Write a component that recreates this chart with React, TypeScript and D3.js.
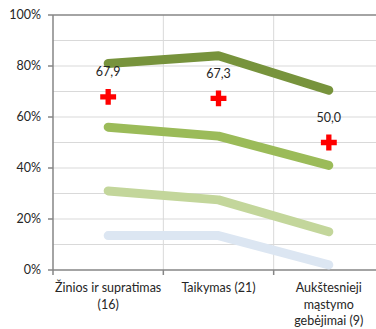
import { useEffect, useRef } from "react";
import * as d3 from "d3";

const categories = [
  ["Žinios ir supratimas", "(16)"],
  ["Taikymas (21)"],
  ["Aukštesnieji", "mąstymo", "gebėjimai (9)"],
];

const darkGreen = [81, 84, 70.5];
const midGreen = [56, 52.5, 41];
const lightGreen = [31, 27.5, 15];
const lightBlue = [13.5, 13.5, 2];
const averages = [67.9, 67.3, 50.0];

const yTicks = [0, 20, 40, 60, 80, 100];
const yGrid = [10, 30, 50, 70, 90];

const W = 376;
const H = 329;

export default function App() {
  const svgRef = useRef<SVGSVGElement | null>(null);

  useEffect(() => {
    if (!svgRef.current) return;
    const svg = d3.select(svgRef.current);
    svg.selectAll("*").remove();

    const font = "Lato, 'Liberation Sans', sans-serif";
    const left = 53;
    const right = 384;
    const top = 15;
    const bottom = 270;

    const x = d3
      .scaleBand<number>()
      .domain(categories.map((_, i) => i))
      .range([left, right]);
    const y = d3.scaleLinear().domain([0, 100]).range([bottom, top]);
    const cx = (i: number) => x(i)! + x.bandwidth() / 2;

    // gridlines
    const grid = svg.append("g");
    [...yGrid, ...yTicks.filter((t) => t > 0 && t < 100)].forEach((t) => {
      grid
        .append("line")
        .attr("x1", left)
        .attr("x2", right)
        .attr("y1", y(t))
        .attr("y2", y(t))
        .attr("stroke", "#d9d9d9")
        .attr("stroke-width", 1);
    });
    categories.forEach((_, i) => {
      if (i === 0) return;
      grid
        .append("line")
        .attr("x1", x(i)!)
        .attr("x2", x(i)!)
        .attr("y1", top)
        .attr("y2", bottom)
        .attr("stroke", "#d9d9d9");
    });

    // frame / axes
    const axisColor = "#868686";
    svg
      .append("line")
      .attr("x1", left)
      .attr("x2", right)
      .attr("y1", top)
      .attr("y2", top)
      .attr("stroke", axisColor)
      .attr("stroke-width", 1.5);
    svg
      .append("line")
      .attr("x1", left)
      .attr("x2", left)
      .attr("y1", top)
      .attr("y2", bottom)
      .attr("stroke", axisColor)
      .attr("stroke-width", 1.5);
    svg
      .append("line")
      .attr("x1", left)
      .attr("x2", right)
      .attr("y1", bottom)
      .attr("y2", bottom)
      .attr("stroke", axisColor)
      .attr("stroke-width", 1.5);

    yTicks.forEach((t) => {
      svg
        .append("line")
        .attr("x1", left - 5)
        .attr("x2", left)
        .attr("y1", y(t))
        .attr("y2", y(t))
        .attr("stroke", axisColor)
        .attr("stroke-width", 1.5);
      svg
        .append("text")
        .attr("x", 41)
        .attr("y", y(t))
        .attr("dy", "0.35em")
        .attr("text-anchor", "end")
        .attr("font-family", font)
        .attr("font-size", 12.5)
        .attr("fill", "#262626")
        .text(`${t}%`);
    });
    categories.forEach((_, i) => {
      svg
        .append("line")
        .attr("x1", x(i)!)
        .attr("x2", x(i)!)
        .attr("y1", bottom)
        .attr("y2", bottom + 5)
        .attr("stroke", axisColor)
        .attr("stroke-width", 1.5);
    });

    // category labels
    categories.forEach((lines, i) => {
      const t = svg
        .append("text")
        .attr("text-anchor", "middle")
        .attr("font-family", font)
        .attr("font-size", 12.5)
        .attr("fill", "#262626");
      lines.forEach((ln, j) => {
        t.append("tspan")
          .attr("x", cx(i))
          .attr("y", 292 + j * 16.5)
          .text(ln);
      });
    });

    // series lines
    const line = d3
      .line<number>()
      .x((_, i) => cx(i))
      .y((d) => y(d));
    const series: [number[], string][] = [
      [lightBlue, "#dce6f2"],
      [lightGreen, "#c3d69b"],
      [midGreen, "#9bbb59"],
      [darkGreen, "#77933c"],
    ];
    series.forEach(([vals, color]) => {
      svg
        .append("path")
        .attr("d", line(vals)!)
        .attr("fill", "none")
        .attr("stroke", color)
        .attr("stroke-width", 9)
        .attr("stroke-linecap", "round")
        .attr("stroke-linejoin", "round");
    });

    // average markers
    const cross = d3.symbol().type(d3.symbolCross).size(140);
    averages.forEach((v, i) => {
      svg
        .append("path")
        .attr("d", cross()!)
        .attr("transform", `translate(${cx(i)},${y(v)})`)
        .attr("fill", "#ff0000");
      svg
        .append("text")
        .attr("x", cx(i))
        .attr("y", y(v) - 25)
        .attr("dy", "0.35em")
        .attr("text-anchor", "middle")
        .attr("font-family", font)
        .attr("font-size", 12.5)
        .attr("fill", "#262626")
        .text(v.toFixed(1).replace(".", ","));
    });
  }, []);

  return (
    <svg
      ref={svgRef}
      width={W}
      height={H}
      style={{ display: "block", position: "absolute", left: 0, top: 0, background: "#fff" }}
    />
  );
}
